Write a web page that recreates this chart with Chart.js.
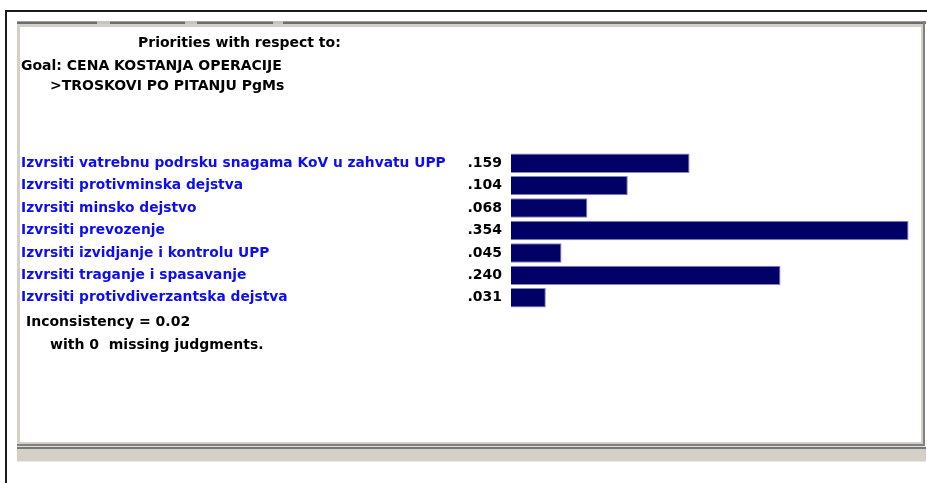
<!DOCTYPE html>
<html>
<head>
<meta charset="utf-8">
<script src="https://cdn.jsdelivr.net/npm/chart.js@4/dist/chart.umd.min.js"></script>
<style>
  html, body { margin: 0; padding: 0; background: #ffffff; }
  #wrap { position: relative; width: 927px; height: 483px; overflow: hidden; }
  #chart { position: absolute; left: 0; top: 0; }
  .txt {
    position: absolute; white-space: pre; color: #000;
    font-family: "DejaVu Sans", sans-serif; font-weight: bold;
    font-size: 14px; line-height: 16px;
  }
</style>
</head>
<body>
<div id="wrap">
  <canvas id="chart" width="927" height="483"></canvas>
  <div class="txt" style="left:138px; top:34px;">Priorities with respect to:</div>
  <div class="txt" style="left:21px; top:57px;">Goal: CENA KOSTANJA OPERACIJE</div>
  <div class="txt" style="left:50px; top:77px;">&gt;TROSKOVI PO PITANJU PgMs</div>
  <div class="txt" id="incons" style="left:26px; top:313px;"></div>
  <div class="txt" id="missing" style="left:50px; top:336px;"></div>
</div>
<script>
// Alternatives compared against the goal
const categories = [
  'Izvrsiti vatrebnu podrsku snagama KoV u zahvatu UPP',
  'Izvrsiti protivminska dejstva',
  'Izvrsiti minsko dejstvo',
  'Izvrsiti prevozenje',
  'Izvrsiti izvidjanje i kontrolu UPP',
  'Izvrsiti traganje i spasavanje',
  'Izvrsiti protivdiverzantska dejstva'
];
// Local priorities of each alternative
const priorities = [0.159, 0.104, 0.068, 0.354, 0.045, 0.240, 0.031];
const inconsistency = 0.02;
const missingJudgments = 0;

document.getElementById('incons').textContent = 'Inconsistency = ' + inconsistency.toFixed(2);
document.getElementById('missing').textContent = 'with ' + missingJudgments + '  missing judgments.';

const BOLD = '"DejaVu Sans", sans-serif';

// Window frame around the priorities panel
const framePlugin = {
  id: 'frame',
  beforeDraw(chart) {
    const ctx = chart.ctx;
    ctx.save();
    ctx.fillStyle = '#ffffff';
    ctx.fillRect(0, 0, 927, 483);
    // outer dark frame
    ctx.fillStyle = '#1a1a1a';
    ctx.fillRect(5, 10, 922, 2);
    ctx.fillRect(5, 10, 2, 473);
    // panel top edge
    ctx.fillStyle = '#a0a0a0';
    ctx.fillRect(17, 21, 909, 1);
    ctx.fillStyle = '#6e6e6e';
    ctx.fillRect(17, 22, 909, 2);
    ctx.fillStyle = '#c4c4c4';
    [[97, 13], [185, 12], [273, 10]].forEach(([x, w]) => ctx.fillRect(x, 21, w, 3));
    ctx.fillStyle = '#d4d0c8';
    ctx.fillRect(17, 24, 906, 3);
    // panel sides
    ctx.fillRect(17, 24, 3, 420);
    ctx.fillRect(921, 24, 2, 420);
    ctx.fillStyle = '#808080';
    ctx.fillRect(923, 21, 2, 426);
    // panel bottom edge
    ctx.fillStyle = '#d4d0c8';
    ctx.fillRect(17, 442, 906, 2);
    ctx.fillStyle = '#808080';
    ctx.fillRect(17, 444, 908, 2);
    // status strip
    ctx.fillStyle = '#e2dfd8';
    ctx.fillRect(17, 446, 909, 1);
    ctx.fillStyle = '#767676';
    ctx.fillRect(17, 447, 909, 2);
    ctx.fillStyle = '#d4d0c8';
    ctx.fillRect(17, 449, 909, 12);
    ctx.fillStyle = '#ebe9e4';
    ctx.fillRect(17, 461, 909, 1);
    ctx.restore();
  }
};

// Priority values printed left of each bar
const valuePlugin = {
  id: 'values',
  afterDatasetsDraw(chart) {
    const ctx = chart.ctx;
    const yScale = chart.scales.y;
    const data = chart.data.datasets[0].data;
    ctx.save();
    ctx.font = 'bold 14px ' + BOLD;
    ctx.fillStyle = '#000000';
    ctx.textAlign = 'right';
    ctx.textBaseline = 'middle';
    data.forEach((v, i) => {
      const y = yScale.getPixelForValue(i);
      ctx.fillText(v.toFixed(3).replace(/^0/, ''), chart.chartArea.left - 9, y);
    });
    ctx.restore();
  }
};

new Chart(document.getElementById('chart'), {
  type: 'bar',
  data: {
    labels: categories,
    datasets: [{
      data: priorities,
      backgroundColor: '#000066',
      borderColor: '#8585bb',
      borderWidth: 1,
      barPercentage: 0.865,
      categoryPercentage: 1
    }]
  },
  options: {
    indexAxis: 'y',
    responsive: false,
    animation: false,
    layout: { padding: { left: 21, top: 152, bottom: 174, right: 17 } },
    plugins: { legend: { display: false }, tooltip: { enabled: false } },
    scales: {
      x: { display: false, min: 0, max: 0.3553 },
      y: {
        position: 'left',
        grid: { display: false, drawTicks: false },
        border: { display: false },
        afterFit(scale) { scale.width = 490; },
        ticks: {
          crossAlign: 'far',
          padding: 0,
          color: '#0d0df0',
          font: { family: BOLD, weight: 'bold', size: 13.8 }
        }
      }
    }
  },
  plugins: [framePlugin, valuePlugin]
});
</script>
</body>
</html>
